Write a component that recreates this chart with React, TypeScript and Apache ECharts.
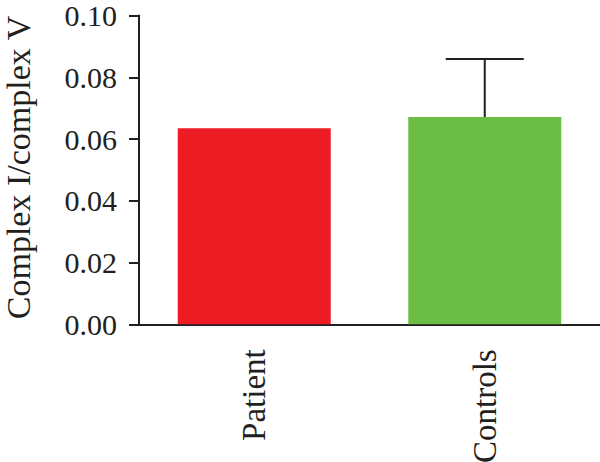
import React, { useEffect, useRef } from "react";
import * as echarts from "echarts";

const categories = ["Patient", "Controls"];
const means = [0.0635, 0.0671];
const errorHighs: (number | null)[] = [null, 0.0859];
const barColors = ["#ED1C24", "#6BBD45"];
const yTicks = { min: 0, max: 0.1, interval: 0.02 };
const yTitle = "Complex I/complex V";

const FONT = "'Liberation Serif', 'DejaVu Serif', serif";
const INK = "#231F20";

export default function App() {
  const ref = useRef<HTMLDivElement>(null);
  useEffect(() => {
    if (!ref.current) return;
    const chart = echarts.init(ref.current, undefined, { renderer: "svg" });
    const errData = categories
      .map((c, i) => (errorHighs[i] == null ? null : [i, means[i], errorHighs[i]]))
      .filter((d) => d !== null);
    chart.setOption({
      animation: false,
      grid: {
        left: 139,
        right: 0,
        top: 15.5,
        bottom: 137.7,
        containLabel: false,
        outerBoundsMode: "none",
      },
      graphic: [
        {
          type: "text",
          x: 18,
          y: 167.5,
          rotation: Math.PI / 2,
          style: {
            text: yTitle,
            fill: INK,
            font: `34px ${FONT}`,
            align: "center",
            verticalAlign: "middle",
          },
        },
      ],
      xAxis: {
        type: "category",
        data: categories,
        axisLine: { lineStyle: { color: INK, width: 2 } },
        axisTick: { alignWithLabel: true, length: 9, lineStyle: { color: INK, width: 2 } },
        axisLabel: {
          rotate: 90,
          margin: 25,
          color: INK,
          fontFamily: FONT,
          fontSize: 33,
        },
      },
      yAxis: {
        type: "value",
        min: yTicks.min,
        max: yTicks.max,
        interval: yTicks.interval,
        splitLine: { show: false },
        axisLine: { show: true, lineStyle: { color: INK, width: 2 } },
        axisTick: { show: true, length: 10, lineStyle: { color: INK, width: 2 } },
        axisLabel: {
          margin: 22,
          color: INK,
          fontFamily: FONT,
          fontSize: 30,
          lineHeight: 30,
          padding: [8, 0, 0, 0],
          formatter: (v: number) => v.toFixed(2),
        },
      },
      series: [
        {
          type: "bar",
          barWidth: 153,
          data: means.map((v, i) => ({ value: v, itemStyle: { color: barColors[i] } })),
        },
        {
          type: "custom",
          data: errData,
          z: 1,
          renderItem: (params: any, api: any) => {
            const x = api.value(0);
            const lo = api.coord([x, api.value(1)]);
            const hi = api.coord([x, api.value(2)]);
            const half = 39;
            const style = { stroke: INK, lineWidth: 2 };
            return {
              type: "group",
              children: [
                { type: "line", shape: { x1: lo[0], y1: lo[1], x2: hi[0], y2: hi[1] }, style },
                { type: "line", shape: { x1: hi[0] - half, y1: hi[1], x2: hi[0] + half, y2: hi[1] }, style },
              ],
            };
          },
        },
      ],
    });
    return () => chart.dispose();
  }, []);
  return (
    <div
      ref={ref}
      style={{ position: "fixed", left: 0, top: 0, width: 600, height: 462, background: "#fff" }}
    />
  );
}
